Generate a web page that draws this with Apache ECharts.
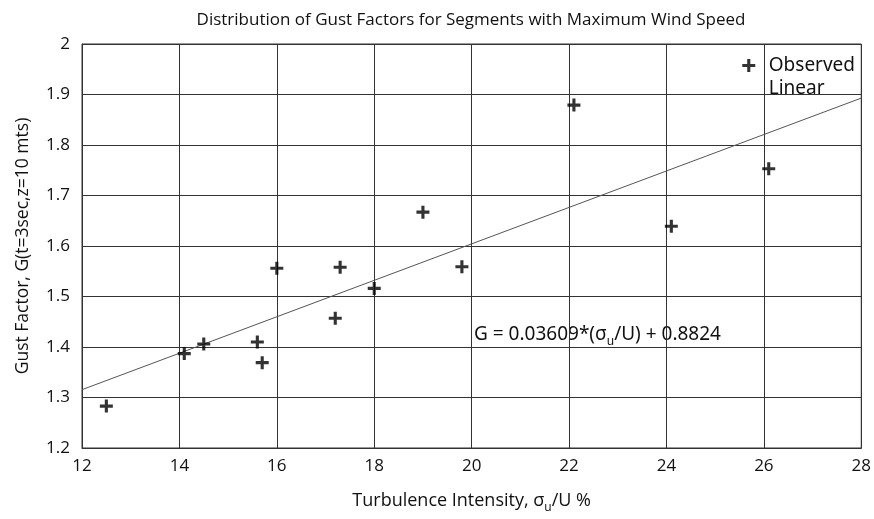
<!DOCTYPE html>
<html>
<head>
<meta charset="utf-8">
<script src="https://cdn.jsdelivr.net/npm/echarts@6/dist/echarts.min.js"></script>
<style>
  html, body { margin: 0; padding: 0; background: #fff; }
  #chart { width: 874px; height: 519px; }
</style>
</head>
<body>
<div id="chart"></div>
<script>
// Observed gust factors vs. turbulence intensity
const turbulence = [12.5, 14.1, 14.5, 15.6, 15.7, 16.0, 17.2, 17.3, 18.0, 19.0, 19.8, 22.1, 24.1, 26.1];
const gustFactor = [1.283, 1.387, 1.406, 1.410, 1.369, 1.556, 1.457, 1.558, 1.516, 1.667, 1.559, 1.879, 1.639, 1.753];

// Linear fit G = 0.03609*(σu/U) + 0.8824, end points at the axis limits
const fitX = [12, 28];
const fitY = [1.3155, 1.8929];

const xTicks = [12, 14, 16, 18, 20, 22, 24, 26, 28];
const yTicks = [1.2, 1.3, 1.4, 1.5, 1.6, 1.7, 1.8, 1.9, 2];

const FONT = "'Open Sans', 'Noto Sans', sans-serif";
const plusIcon = 'path://M3.8,0H6.2V3.8H10V6.2H6.2V10H3.8V6.2H0V3.8H3.8Z';

const chart = echarts.init(document.getElementById('chart'), null, { renderer: 'canvas' });

chart.setOption({
  backgroundColor: '#ffffff',
  animation: false,
  title: {
    text: 'Distribution of Gust Factors for Segments with Maximum Wind Speed',
    left: 466, top: 7, textAlign: 'center',
    textStyle: { fontFamily: FONT, fontSize: 17, fontWeight: 'normal', color: '#111' }
  },
  legend: {
    right: 14, top: 51, orient: 'vertical', itemGap: 4,
    itemWidth: 30, itemHeight: 13, symbolKeepAspect: true,
    textStyle: { fontFamily: "'Noto Sans', sans-serif", fontSize: 19, color: '#111' },
    data: [
      { name: 'Observed', icon: plusIcon, itemStyle: { color: '#000' } },
      { name: 'Linear', icon: 'rect', itemStyle: { color: 'rgba(0,0,0,0)', borderWidth: 0 } }
    ]
  },
  grid: { left: 82, right: 11, top: 44, bottom: 67, show: true, borderColor: '#333', borderWidth: 1 },
  xAxis: {
    type: 'value', min: xTicks[0], max: xTicks[xTicks.length - 1], interval: 2,
    axisLine: { show: true, lineStyle: { color: '#333' } },
    axisTick: { show: false },
    splitLine: { show: true, lineStyle: { color: '#333', width: 1 } },
    axisLabel: { fontFamily: FONT, fontSize: 17, color: '#111', margin: 10 },
    name: '{t|Turbulence Intensity, σ}{s|u}{t|/U %}',
    nameLocation: 'middle', nameGap: 40,
    nameTextStyle: {
      rich: {
        t: { fontFamily: FONT, fontSize: 18, color: '#111' },
        s: { fontFamily: FONT, fontSize: 12, color: '#111', padding: [14, 0, 0, 0] }
      }
    }
  },
  yAxis: {
    type: 'value', min: 1.2, max: 2, interval: 0.1,
    axisLine: { show: true, lineStyle: { color: '#333' } },
    axisTick: { show: false },
    splitLine: { show: true, lineStyle: { color: '#333', width: 1 } },
    axisLabel: {
      fontFamily: FONT, fontSize: 17, color: '#111', margin: 12,
      formatter: v => String(Math.round(v * 10) / 10)
    },
    name: 'Gust Factor, G(t=3sec,z=10 mts)',
    nameLocation: 'middle', nameGap: 50,
    nameTextStyle: { fontFamily: FONT, fontSize: 17.5, color: '#111' }
  },
  series: [
    {
      name: 'Linear', type: 'line',
      data: fitX.map((x, i) => [x, fitY[i]]),
      symbol: 'none', silent: true,
      lineStyle: { color: '#555', width: 1 },
      z: 2
    },
    {
      name: 'Observed', type: 'scatter',
      data: turbulence.map((x, i) => [x, gustFactor[i]]),
      symbol: plusIcon, symbolSize: 13,
      itemStyle: { color: '#000' },
      z: 3
    }
  ],
  graphic: [{
    type: 'text', left: 474, top: 325,
    style: {
      text: '{t|G = 0.03609*(σ}{s|u}{t|/U) + 0.8824}',
      rich: {
        t: { fontFamily: "'Noto Sans', sans-serif", fontSize: 19, fill: '#111' },
        s: { fontFamily: "'Noto Sans', sans-serif", fontSize: 12, fill: '#111', padding: [14, 0, 0, 0] }
      }
    }
  }]
});
</script>
</body>
</html>
